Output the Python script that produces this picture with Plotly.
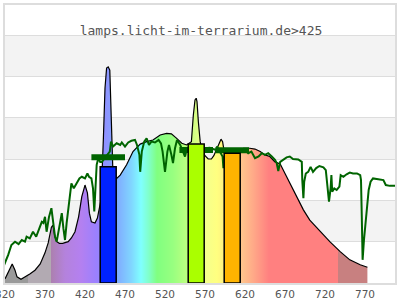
import plotly.graph_objects as go

# ---- data ----
lamp_wl = [320, 321, 325, 329, 332.5, 335, 340, 345, 351, 357.5, 364, 370, 374, 378, 380, 382,
           384.6, 388, 392, 399, 403, 407.5, 412, 416, 420, 423, 425.5, 428, 432.5, 435.5, 440,
           443, 445, 447, 449, 451, 452.5, 453.5, 455, 459.6, 464, 472, 480, 489, 497, 505, 514,
           522, 528, 534.6, 541, 547, 553, 555.4, 557.5, 559, 560, 561.7, 564, 566, 570, 574,
           578, 581, 584.6, 588, 590, 592, 594, 597, 605, 614, 618, 626, 632.5, 639, 645, 651,
           657.5, 664, 670, 676, 684.6, 693, 701, 714, 726, 739, 751, 764, 773]
lamp_val = [1.0, 1.45, 3.1, 4.6, 3.1, 1.5, 0.9, 1.4, 2.2, 3.1, 4.6, 7.3, 9.7, 13.5, 14.0, 11.6,
            10.0, 9.6, 9.6, 10.0, 10.9, 12.4, 16.0, 20.9, 23.7, 21.8, 16.9, 14.8, 14.5, 15.7, 20.1,
            35.1, 47.2, 52.0, 52.3, 51.5, 43.1, 32.7, 26.1, 25.3, 26.1, 28.6, 31.8, 33.6, 34.2, 34.6, 35.8,
            36.2, 36.1, 35.0, 33.8, 33.4, 34.2, 40.6, 44.3, 44.7, 43.9, 39.0, 34.2, 32.2, 30.8, 30.0,
            30.0, 30.8, 32.6, 34.0, 34.8, 34.2, 31.8, 31.3, 31.7, 32.2, 32.6, 32.6, 32.4, 31.8, 31.0, 30.6,
            29.3, 28.8, 26.5, 24.1, 20.9, 17.7, 15.2, 12.4, 10.0, 7.6, 5.6, 4.4, 3.8]

sun_wl = [316, 320, 324, 328, 332.5, 337, 341, 345, 347, 351, 355, 359, 362, 366, 368, 370, 372, 375,
          378, 380, 382.5, 384.6, 389, 391, 393, 395, 397, 399, 401, 403, 406, 409.6, 413, 416,
          420, 423, 425, 428, 430, 431.6, 433, 434.6, 436.6, 439, 441, 445, 451, 452.5, 455,
          459.6, 464, 466, 470, 474, 478, 482.5, 485, 488, 489, 491, 494, 497, 500, 503, 507.5,
          512, 515, 517, 520, 523, 525, 528, 530, 532.5, 535, 539, 542, 545, 547, 549, 560, 570,
          576, 580, 584, 585, 589, 592, 593, 595, 605, 616, 620, 624, 628, 632.5, 637, 641, 645,
          649, 653.5, 657.5, 659.6, 661.6, 664, 668, 672, 676, 680, 686.6, 691, 691.6, 693, 694,
          696, 699, 702, 705, 709, 713, 718, 721, 723, 725, 727, 728, 729, 731.6, 734.6, 738,
          739.6, 743, 747, 751, 755, 760, 764, 765, 766, 767, 768.7, 770, 771, 773, 774.6, 777,
          780, 786.6, 793, 796, 801, 807.5]
sun_val = [3.0, 4.8, 6.8, 9.2, 10.0, 9.4, 10.4, 10.0, 11.2, 10.8, 12.4, 11.2, 12.8, 14.8, 14.5, 16.0, 12.4, 16.0,
           18.1, 15.2, 11.2, 10.0, 14.4, 16.9, 13.2, 10.4, 14.4, 17.7, 21.7, 24.1, 22.9, 24.1, 25.3, 25.7,
           25.3, 26.5, 25.7, 25.3, 22.9, 17.3, 22.9, 28.6, 30.2, 29.3, 29.3, 30.2, 31.8, 34.2, 33.0,
           33.8, 33.4, 34.0, 33.0, 34.0, 34.4, 34.6, 33.4, 31.0, 26.9, 31.8, 34.2, 35.0, 33.4, 34.2, 34.0,
           34.6, 33.8, 31.8, 26.9, 31.8, 33.4, 31.0, 29.0, 32.6, 34.6, 33.4, 31.8, 30.6, 32.2, 32.6, 32.4, 32.6,
           32.7, 32.4, 32.2, 33.0, 31.8, 30.6, 27.8, 31.5, 31.9, 31.8, 32.2, 31.4, 31.8, 30.2, 30.6, 31.4, 31.0,
           31.4, 30.6, 29.8, 29.0, 27.1, 29.3, 29.9, 30.4, 30.6, 30.0, 29.9, 29.3, 24.9, 20.5, 24.5,
           26.5, 26.9, 28.1, 26.9, 27.8, 28.3, 28.0, 27.3, 22.5, 19.7, 22.9, 26.1, 22.1, 22.9, 22.5, 23.3,
           26.1, 25.7, 26.3, 26.7, 26.5, 26.5, 26.1, 24.9, 16.0, 5.6, 10.4, 12.8, 14.4, 18.5, 22.5, 24.5,
           25.3, 25.1, 24.9, 23.7, 23.5, 23.5]

bar_center = [449, 559, 604]
bar_width = [20, 20, 20]
bar_height = [28.1, 33.6, 31.4]
bar_colors = ["#0022ff", "#aaff00", "#ffb400"]

marker_center = [449, 559, 604]
marker_span = [42, 42, 42]
marker_level = [30.4, 32.2, 32.1]

tick_vals = [320, 370, 420, 470, 520, 570, 620, 670, 720, 770]
tick_text = [str(v) for v in tick_vals]

# spectral colours of the lamp fill
grad_wl = [320, 349, 349, 378, 378, 395, 415, 435, 460, 478, 490, 500, 510, 530, 548,
           570, 585, 594, 614, 630, 650, 736, 736, 773]
grad_col = ["#9a9a9a", "#9a9a9a", "#b2aab2", "#b2aab2", "#ac80b0", "#b482dc", "#b480f0",
            "#9a80ff", "#80aaff", "#80d6ff", "#80ffff", "#80ffc8", "#80ff80", "#98ff80",
            "#beff80", "#f4ff8c", "#ffff80", "#fff080", "#ffc88c", "#ffaa88", "#ff8080",
            "#ff8080", "#c88080", "#c88080"]

X_RANGE = [320, 807.5]
Y_RANGE = [0, 67.26]
Y_STEP = 10

# ---- figure ----
fig = go.Figure()

lo, hi = lamp_wl[0], lamp_wl[-1]
colorscale = [[(w - lo) / (hi - lo), c] for w, c in zip(grad_wl, grad_col)]

fig.add_trace(go.Scatter(
    x=lamp_wl, y=lamp_val, mode="lines",
    line=dict(color="black", width=1.2),
    fill="tozeroy",
    fillgradient=dict(type="horizontal", colorscale=colorscale, start=lo, stop=hi),
    hoverinfo="skip", showlegend=False))

fig.add_trace(go.Scatter(
    x=sun_wl, y=sun_val, mode="lines",
    line=dict(color="#006400", width=2),
    hoverinfo="skip", showlegend=False))

for c, s, v in zip(marker_center, marker_span, marker_level):
    fig.add_trace(go.Scatter(
        x=[c - s / 2, c + s / 2], y=[v, v], mode="lines",
        line=dict(color="#006400", width=6),
        hoverinfo="skip", showlegend=False))

for c, w, h, col in zip(bar_center, bar_width, bar_height, bar_colors):
    x0, x1 = c - w / 2, c + w / 2
    fig.add_trace(go.Scatter(
        x=[x0, x0, x1, x1, x0], y=[0, h, h, 0, 0], mode="lines",
        fill="toself", fillcolor=col,
        line=dict(color="black", width=1.5),
        hoverinfo="skip", showlegend=False))

# alternating background bands
k = 1
while k * Y_STEP < Y_RANGE[1]:
    fig.add_shape(type="rect", xref="paper", yref="y", x0=0, x1=1,
                  y0=k * Y_STEP, y1=min((k + 1) * Y_STEP, Y_RANGE[1]),
                  fillcolor="#f3f3f3", line=dict(width=0), layer="below")
    k += 2

fig.update_layout(
    width=400, height=300,
    margin=dict(l=5, r=5, t=5, b=17, autoexpand=False),
    paper_bgcolor="white", plot_bgcolor="white",
    title=dict(text="lamps.licht-im-terrarium.de>425", x=0.5025, xanchor="center",
               y=0.9, yanchor="middle", automargin=False,
               font=dict(family="DejaVu Sans Mono", size=13, color="#555555")),
    xaxis=dict(range=X_RANGE, tickvals=tick_vals, ticktext=tick_text, showgrid=False,
               zeroline=False, showline=True, mirror=True, linecolor="#dddddd", linewidth=2,
               ticks="", automargin=False, ticklabeloverflow="allow",
               tickfont=dict(family="DejaVu Sans", size=10.5, color="#555555")),
    yaxis=dict(range=Y_RANGE, dtick=Y_STEP, showticklabels=False, showgrid=True,
               gridcolor="#dddddd", gridwidth=1, zeroline=False, showline=True, mirror=True,
               linecolor="#dddddd", linewidth=2, ticks="", automargin=False),
    showlegend=False,
)

fig.write_html("out.html")
